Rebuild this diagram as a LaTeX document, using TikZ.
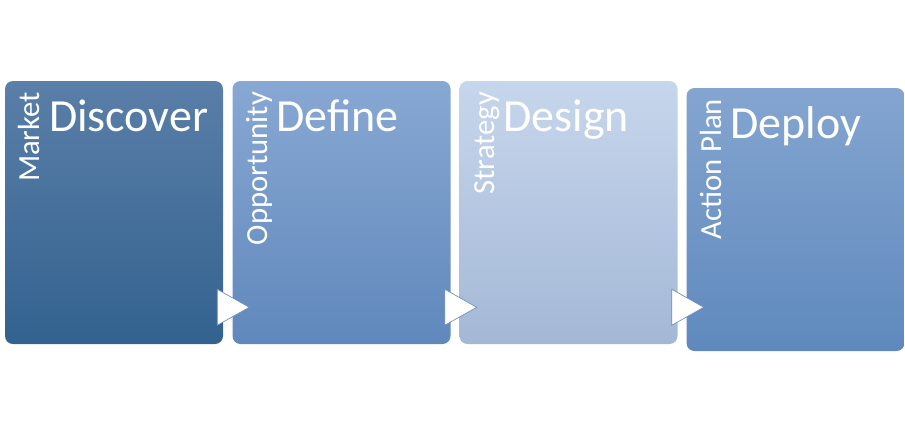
\documentclass[tikz,border=0pt]{standalone}
\usepackage{fontspec}
\setmainfont{Carlito}
\usetikzlibrary{calc}
\definecolor{discTop}{HTML}{5A7FA8}
\definecolor{discBot}{HTML}{33628F}
\definecolor{defTop}{HTML}{88A8D3}
\definecolor{defBot}{HTML}{6088BC}
\definecolor{desTop}{HTML}{C6D6EC}
\definecolor{desBot}{HTML}{A4B8D6}
\definecolor{depTop}{HTML}{84A5D0}
\definecolor{depBot}{HTML}{5F89BD}
\definecolor{triEdge}{HTML}{6B8FC0}

\begin{document}
\begin{tikzpicture}[x=0.75pt,y=-0.75pt,
      stage/.style 2 args={rounded corners=6pt, top color=#1, bottom color=#2,
                minimum width=163.5pt, minimum height=197.25pt, inner sep=0pt},
      title/.style={text=white, inner sep=0pt, anchor=base west,
                font=\fontsize{34.5pt}{40pt}\selectfont},
      side/.style={text=white, inner sep=0pt, rotate=90, anchor=base east,
                font=\fontsize{23pt}{27pt}\selectfont},
      tri/.style={fill=white, draw=triEdge, line width=0.5pt, line join=miter}]
    \useasboundingbox (0,0) rectangle (905,425);
    \node[stage={discTop}{discBot}] (disc) at (114,212.5)   {};
    \node[stage={defTop}{defBot}]   (def)  at (341.5,212.5) {};
    \node[stage={desTop}{desBot}]   (des)  at (568.5,212.5) {};
    \node[stage={depTop}{depBot}]   (dep)  at (795.5,219.5) {};
    \node[title] (discT) at ($(disc.north west)+(44,51)$) {Discover};
    \node[title] (defT)  at ($(def.north west)+(44,51)$)  {Define};
    \node[title] (desT)  at ($(des.north west)+(44,51)$)  {Design};
    \node[title] (depT)  at ($(dep.north west)+(44,51)$)  {Deploy};
    \node[side] (discS) at ($(disc.north west)+(35,11)$) {Market};
    \node[side] (defS)  at ($(def.north west)+(35,11)$)  {Opportunity};
    \node[side] (desS)  at ($(des.north west)+(35,11)$)  {Strategy};
    \node[side] (depS)  at ($(dep.north west)+(35,11)$)  {Action Plan};
    \draw[tri] ($(disc.south east)+(-6,-55)$) -- ($(disc.south east)+(26,-37)$) -- ($(disc.south east)+(-6,-19)$) -- cycle;
    \draw[tri] ($(def.south east)+(-6,-55)$) -- ($(def.south east)+(26,-37)$) -- ($(def.south east)+(-6,-19)$) -- cycle;
    \draw[tri] ($(des.south east)+(-6,-55)$) -- ($(des.south east)+(26,-37)$) -- ($(des.south east)+(-6,-19)$) -- cycle;
  \end{tikzpicture}
\end{document}
